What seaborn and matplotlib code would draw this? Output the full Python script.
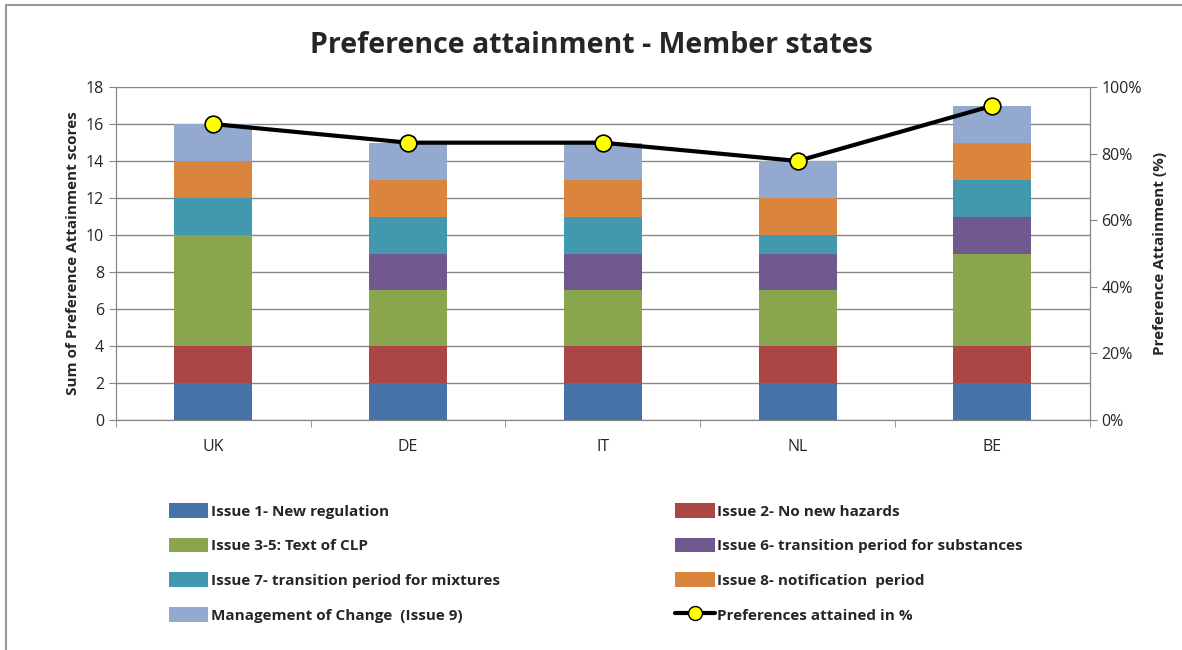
import numpy as np
import matplotlib.pyplot as plt
import matplotlib.lines as mlines
from matplotlib.ticker import PercentFormatter, FixedLocator
import seaborn as sns

# --- DATA ---
countries = ['UK', 'DE', 'IT', 'NL', 'BE']
series_names = [
    'Issue 1- New regulation',
    'Issue 2- No new hazards',
    'Issue 3-5: Text of CLP',
    'Issue 6- transition period for substances',
    'Issue 7- transition period for mixtures',
    'Issue 8- notification  period',
    'Management of Change  (Issue 9)',
]
issue1 = [2, 2, 2, 2, 2]
issue2 = [2, 2, 2, 2, 2]
issue3_5 = [6, 3, 3, 3, 5]
issue6 = [0, 2, 2, 2, 2]
issue7 = [2, 2, 2, 1, 2]
issue8 = [2, 2, 2, 2, 2]
issue9 = [2, 2, 2, 2, 2]
attained_pct = [88.9, 83.3, 83.3, 77.8, 94.4]
line_name = 'Preferences attained in %'

colors = ['#4572A7', '#AA4643', '#89A54E', '#71588F', '#4198AF', '#DB843D', '#93A9CF']

sns.set_style('white')
plt.rcParams['font.family'] = ['Open Sans', 'DejaVu Sans']

# --- PLOT ---
fig = plt.figure(figsize=(11.82, 6.5), dpi=100)
ax = fig.add_axes([0.098, 0.354, 0.824, 0.512])

grid_c = '#868686'
bottom = np.zeros(len(countries))
handles = []
for name, vals, c in zip(series_names,
                         [issue1, issue2, issue3_5, issue6, issue7, issue8, issue9],
                         colors):
    sns.barplot(x=countries, y=vals, bottom=bottom, color=c, width=0.4,
                saturation=1, ax=ax, zorder=3, edgecolor='none', linewidth=0)
    bottom += np.array(vals)
    handles.append(plt.Rectangle((0, 0), 1, 1, color=c, linewidth=0))

ax.set_ylim(0, 18)
ax.set_yticks(range(0, 19, 2))
ax.set_xlim(-0.5, len(countries) - 0.5)
ax.yaxis.grid(True, color=grid_c, linewidth=1, zorder=0)
ax.set_axisbelow(True)
ax.set_ylabel('Sum of Preference Attainment scores', fontsize=11, fontweight='bold')
ax.set_xlabel('')
ax.spines['top'].set_visible(False)
for s in ['left', 'right', 'bottom']:
    ax.spines[s].set_color(grid_c)
ax.tick_params(axis='y', left=True, length=5, color=grid_c, labelsize=11.5)
ax.tick_params(axis='x', which='major', length=0, labelsize=11.5, pad=14)
ax.xaxis.set_minor_locator(FixedLocator(np.arange(len(countries) + 1) - 0.5))
ax.tick_params(axis='x', which='minor', bottom=True, length=5, color=grid_c)

ax2 = ax.twinx()
sns.lineplot(x=np.arange(len(countries)), y=attained_pct, ax=ax2, color='black',
             linewidth=3, marker='o', markersize=12, markerfacecolor='#FFFF00',
             markeredgecolor='black', markeredgewidth=1.2, zorder=5)
ax2.set_ylim(0, 100)
ax2.set_yticks(range(0, 101, 20))
ax2.yaxis.set_major_formatter(PercentFormatter(decimals=0))
ax2.set_ylabel('Preference Attainment (%)', fontsize=11, fontweight='bold', labelpad=8)
ax2.spines['top'].set_visible(False)
for s in ['left', 'right', 'bottom']:
    ax2.spines[s].set_color(grid_c)
ax2.tick_params(axis='y', right=True, length=5, color=grid_c, labelsize=11.5)
ax2.grid(False)

fig.text(0.5, 0.93, 'Preference attainment - Member states', ha='center', va='center',
         fontsize=20.5, fontweight='bold')

line_handle = mlines.Line2D([], [], color='black', linewidth=3, marker='o', markersize=10,
                            markerfacecolor='#FFFF00', markeredgecolor='black')
all_h = handles + [line_handle]
all_l = series_names + [line_name]
# row-wise order for a two column legend
order = [0, 2, 4, 6, 1, 3, 5, 7]
fig.legend([all_h[i] for i in order], [all_l[i] for i in order], ncol=2,
           loc='upper left', bbox_to_anchor=(0.131, 0.247), frameon=False,
           prop={'weight': 'bold', 'size': 11},
           columnspacing=11.5, labelspacing=1.25, handlelength=2.6, handleheight=1.1,
           handletextpad=0.15)

# chart border
fig.add_artist(mlines.Line2D([0.005, 0.005], [0, 0.992], color='#999999', linewidth=1.5))
fig.add_artist(mlines.Line2D([0.005, 1.0], [0.992, 0.992], color='#999999', linewidth=1.5))

fig.savefig('out.png', dpi=100)
